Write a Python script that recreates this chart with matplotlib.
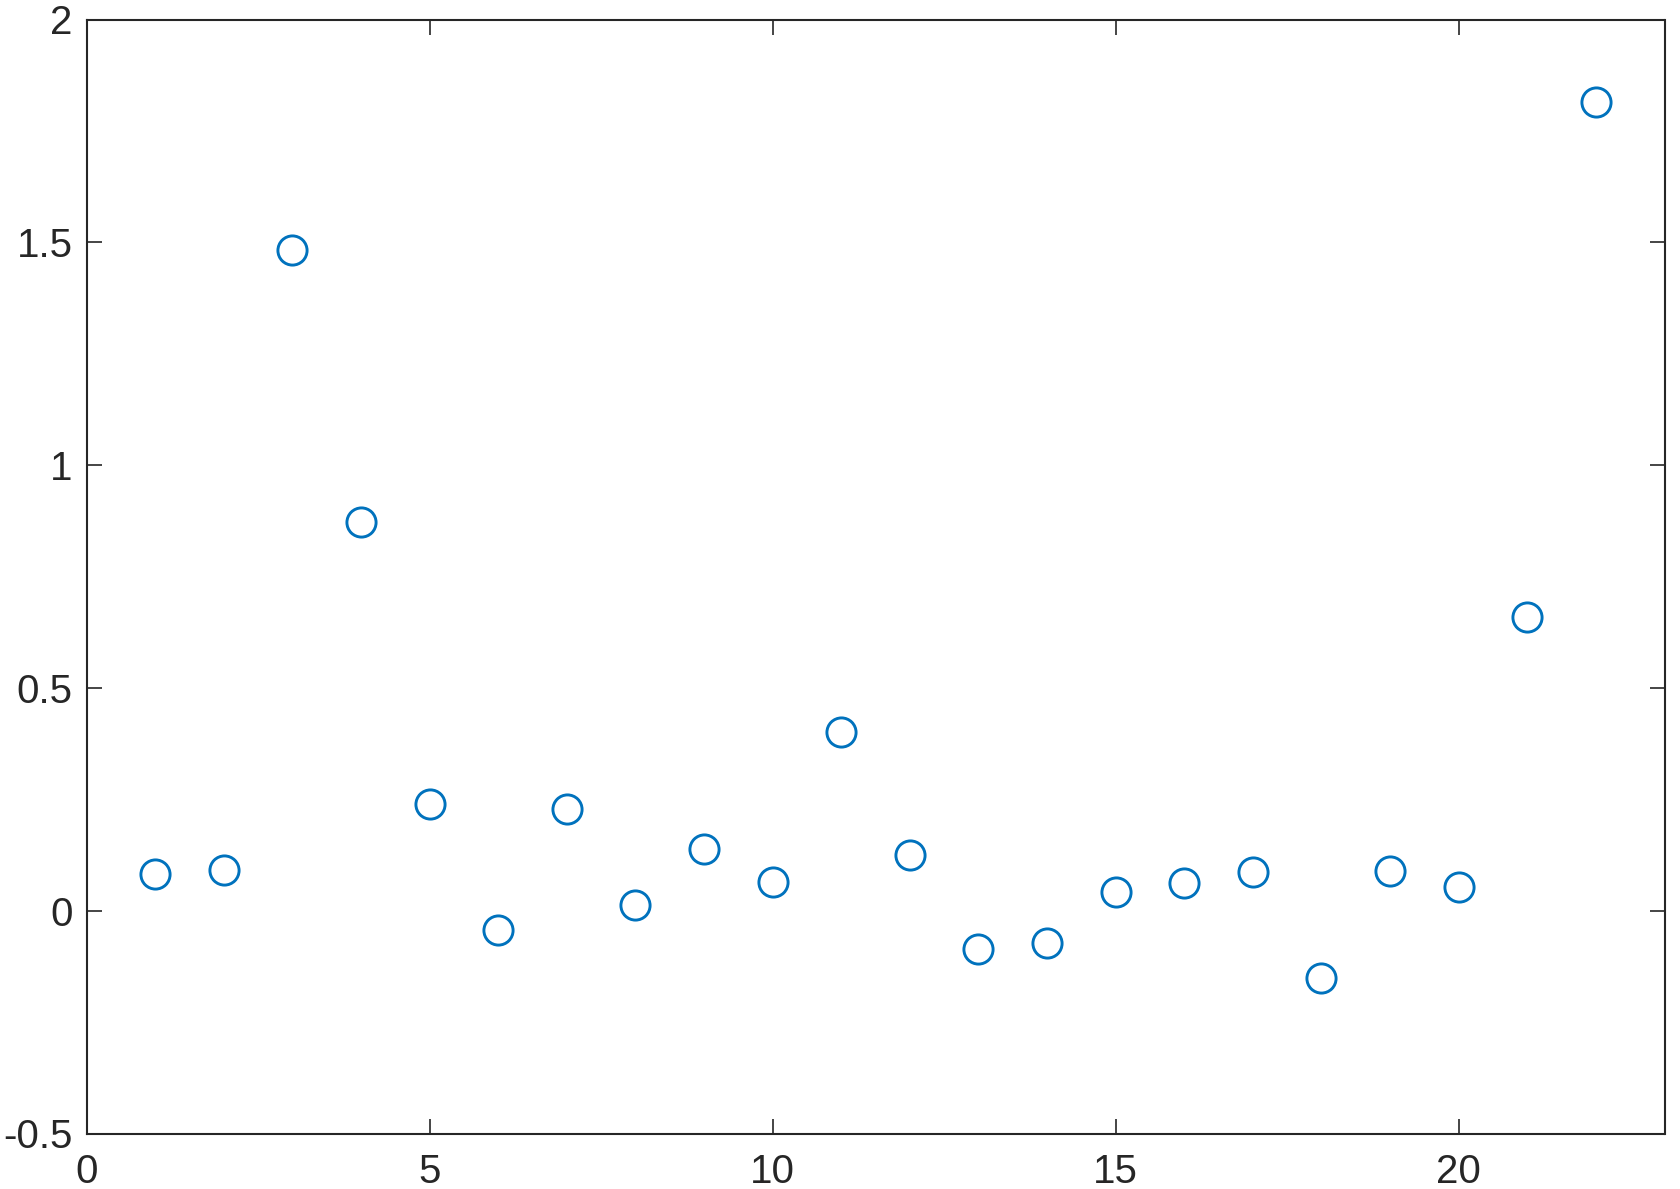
import matplotlib
matplotlib.use('Agg')
import matplotlib.pyplot as plt
import numpy as np

x_vals = list(range(1, 23))
y_vals = [0.082, 0.091, 1.483, 0.873, 0.240, -0.043, 0.228, 0.012, 0.139, 0.065,
          0.401, 0.125, -0.087, -0.072, 0.043, 0.062, 0.087, -0.151, 0.089, 0.053,
          0.659, 1.815]
x_ticks = [0, 5, 10, 15, 20]
y_ticks = [-0.5, 0, 0.5, 1, 1.5, 2]
y_tick_labels = ['-0.5', '0', '0.5', '1', '1.5', '2']

plt.rcParams['font.family'] = ['Liberation Sans', 'DejaVu Sans']

fig = plt.figure(figsize=(16.8, 11.89), dpi=100)
ax = fig.add_axes([86.5 / 1680, 1 - 1133.5 / 1189, (1664.5 - 86.5) / 1680, (1133.5 - 19.5) / 1189])

ax.plot(x_vals, y_vals, linestyle='none', marker='o', markersize=21,
        markerfacecolor='none', markeredgecolor='#0072BD', markeredgewidth=2.1)

ax.set_xlim(0, 23)
ax.set_ylim(-0.5, 2)
ax.set_xticks(x_ticks)
ax.set_yticks(y_ticks)
ax.set_yticklabels(y_tick_labels)

for side in ['top', 'bottom', 'left', 'right']:
    ax.spines[side].set_color('#262626')
    ax.spines[side].set_linewidth(1.5)

ax.tick_params(direction='in', length=11, width=1.2, colors='#262626',
               labelsize=29, top=True, right=True)
ax.tick_params(axis='x', pad=14)
ax.tick_params(axis='y', pad=10)

fig.savefig('out.png', dpi=100)
